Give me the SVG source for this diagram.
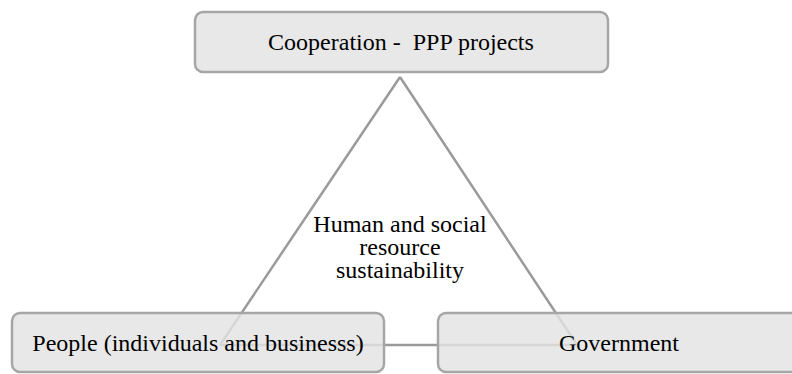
<svg xmlns="http://www.w3.org/2000/svg" width="792" height="374" viewBox="0 0 792 374">
<style>
.box{fill:#e3e3e3;fill-opacity:0.82;stroke:#a6a6a6;stroke-width:2.5}
.lbl{font-family:"Liberation Serif","Times New Roman",serif;font-size:24px;fill:#000;text-anchor:middle}
.ln{stroke:#9a9a9a;stroke-width:2.5;fill:none}
</style>
<rect width="792" height="374" fill="#fff"/>
<g id="connectors">
<line class="ln" x1="400" y1="77" x2="220" y2="345"/>
<line class="ln" x1="400" y1="77" x2="577" y2="345"/>
<line class="ln" x1="220" y1="345" x2="577" y2="345"/>
</g>
<g id="center-label">
<text class="lbl" x="400" y="232">Human and social</text>
<text class="lbl" x="400" y="255">resource</text>
<text class="lbl" x="400" y="278">sustainability</text>
</g>
<g id="node-cooperation">
<rect class="box" x="195" y="12" width="413" height="60" rx="8"/>
<text class="lbl" x="401" y="50" xml:space="preserve">Cooperation -  PPP projects</text>
</g>
<g id="node-people">
<rect class="box" x="12" y="313" width="372" height="59" rx="8"/>
<text class="lbl" x="198" y="351">People (individuals and businesss)</text>
</g>
<g id="node-government">
<rect class="box" x="438" y="313" width="362" height="59" rx="8"/>
<text class="lbl" x="619" y="351">Government</text>
</g>
</svg>
